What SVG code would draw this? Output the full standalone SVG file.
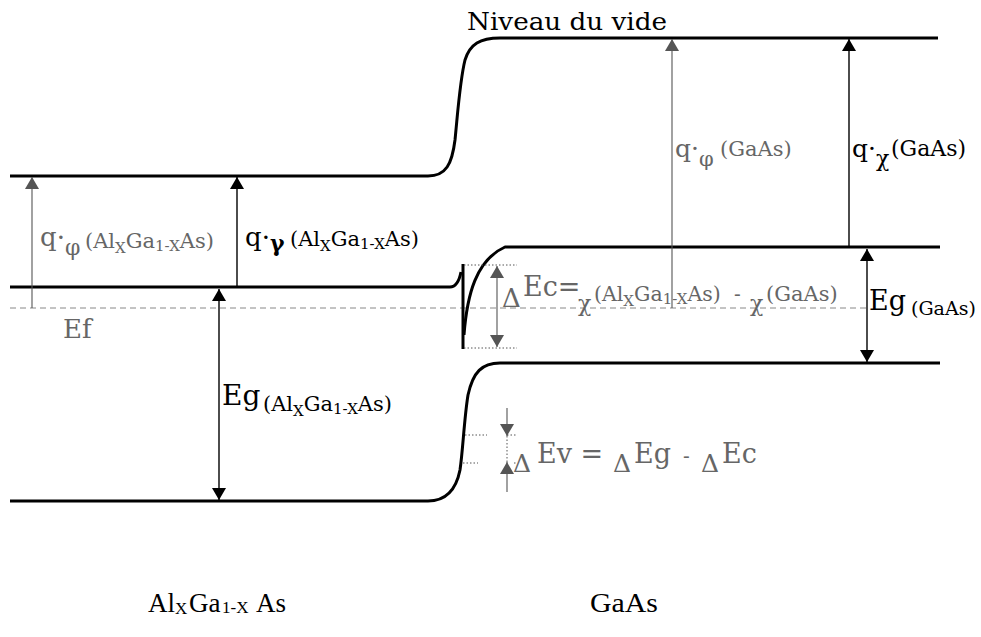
<svg xmlns="http://www.w3.org/2000/svg" width="981" height="637" viewBox="0 0 981 637">
<style>
.band{fill:none;stroke:#000;stroke-width:3;stroke-linejoin:round}
.ab{stroke:#000;stroke-width:1.4;fill:none}
.ag{stroke:#555;stroke-width:1.1;fill:none}
.dot{stroke:#555;stroke-width:1;stroke-dasharray:1.5,2;fill:none}
.ef{stroke:#888;stroke-width:1;stroke-dasharray:6,4;fill:none}
text{font-family:"DejaVu Serif","Liberation Serif",serif}
.k{fill:#000}
.g{fill:#666}
.tt{font-family:"Liberation Serif","Times New Roman",serif;fill:#000}
</style>
<defs>
<marker id="hb" viewBox="0 0 12 14" refX="12" refY="7" markerWidth="12" markerHeight="14" markerUnits="userSpaceOnUse" orient="auto"><path d="M0,0 L12,7 L0,14 Z" fill="#000"/></marker>
<marker id="hg" viewBox="0 0 12 14" refX="12" refY="7" markerWidth="12" markerHeight="14" markerUnits="userSpaceOnUse" orient="auto"><path d="M0,0 L12,7 L0,14 Z" fill="#555"/></marker>
<marker id="hbs" viewBox="0 0 12 14" refX="0" refY="7" markerWidth="12" markerHeight="14" markerUnits="userSpaceOnUse" orient="auto"><path d="M12,0 L0,7 L12,14 Z" fill="#000"/></marker>
<marker id="hgs" viewBox="0 0 12 14" refX="0" refY="7" markerWidth="12" markerHeight="14" markerUnits="userSpaceOnUse" orient="auto"><path d="M12,0 L0,7 L12,14 Z" fill="#555"/></marker>
</defs>
<rect width="981" height="637" fill="#fff"/>

<g id="fermi"><line class="ef" x1="10" y1="308" x2="866" y2="308"/></g>

<g id="vacuum"><path class="band" d="M10,176 H428 C446,176 452,164 455,140 C458,110 460,80 465,60 C470,44 480,38 500,38 H938"/></g>
<g id="cb-algaas"><path class="band" d="M10,287 H450 C456,287 459,282 461,272"/><line class="band" x1="463" y1="264" x2="463" y2="349"/></g>
<g id="cb-gaas"><path class="band" d="M464,335 C467,295 476,260 505,247 H940"/></g>
<g id="vb"><path class="band" d="M10,501 H428 C446,501 456,490 460,470 C463,450 464,420 468,395 C473,372 482,363 500,363 H940"/></g>

<g id="connectors">
<line class="ag" x1="32" y1="308" x2="32" y2="177" marker-end="url(#hg)"/>
<line class="ab" x1="237" y1="287" x2="237" y2="177" marker-end="url(#hb)"/>
<line class="ab" x1="219" y1="289" x2="219" y2="500" marker-start="url(#hbs)" marker-end="url(#hb)"/>
<line class="ag" x1="672" y1="308" x2="672" y2="39" marker-end="url(#hg)"/>
<line class="ab" x1="849" y1="247" x2="849" y2="39" marker-end="url(#hb)"/>
<line class="ab" x1="867" y1="249" x2="867" y2="362" marker-start="url(#hbs)" marker-end="url(#hb)"/>
<line class="ag" x1="497" y1="266" x2="497" y2="347" marker-start="url(#hgs)" marker-end="url(#hg)"/>
<line class="dot" x1="464" y1="265" x2="517" y2="265"/>
<line class="dot" x1="464" y1="348" x2="517" y2="348"/>
<line class="ag" x1="507" y1="408" x2="507" y2="436" marker-end="url(#hg)"/>
<line class="ag" x1="507" y1="492" x2="507" y2="462" marker-end="url(#hg)"/>
<line class="dot" x1="507" y1="436" x2="507" y2="462"/>
<line class="dot" x1="465" y1="435" x2="487" y2="435"/>
<line class="dot" x1="507" y1="435" x2="517" y2="435"/>
<line class="dot" x1="463" y1="463" x2="478" y2="463"/>
<line class="dot" x1="514" y1="463" x2="516" y2="463"/>
</g>

<g id="label-vide"><text class="k" x="467" y="30" font-size="24" textLength="200" lengthAdjust="spacingAndGlyphs">Niveau du vide</text></g>

<g id="label-phi-algaas"><text class="g"><tspan x="40" y="246" font-size="26">q·</tspan><tspan dy="9" font-size="22">φ</tspan><tspan x="85" y="248" font-size="21">(Al</tspan><tspan dy="5" font-size="15">X</tspan><tspan dy="-5" font-size="21">Ga</tspan><tspan dy="3" font-size="15">1-X</tspan><tspan dy="-3" font-size="21">As)</tspan></text></g>

<g id="label-chi-algaas"><text class="k"><tspan x="245" y="246" font-size="26">q·</tspan><tspan dy="5" font-size="22" font-weight="bold">γ</tspan><tspan x="290" y="246" font-size="21">(Al</tspan><tspan dy="5" font-size="15">X</tspan><tspan dy="-5" font-size="21">Ga</tspan><tspan dy="3" font-size="15">1-X</tspan><tspan dy="-3" font-size="21">As)</tspan></text></g>

<g id="label-ef"><text class="g" x="63" y="338" font-size="26">Ef</text></g>

<g id="label-eg-algaas"><text class="k"><tspan x="222" y="405" font-size="28">Eg</tspan><tspan x="263" y="411" font-size="21">(Al</tspan><tspan dy="5" font-size="15">X</tspan><tspan dy="-5" font-size="21">Ga</tspan><tspan dy="3" font-size="15">1-X</tspan><tspan dy="-3" font-size="21">As)</tspan></text></g>

<g id="label-dec"><text class="g"><tspan x="502" y="307" font-size="26">Δ</tspan><tspan x="523" y="296" font-size="27">Ec=</tspan><tspan x="578" y="311" font-size="22">χ</tspan><tspan x="594" y="301" font-size="20.5">(Al</tspan><tspan dy="5" font-size="15">X</tspan><tspan dy="-5" font-size="20.5">Ga</tspan><tspan dy="3" font-size="15">1-X</tspan><tspan dy="-3" font-size="20.5">As)</tspan><tspan x="734" y="301" font-size="20">-</tspan><tspan x="750" y="311" font-size="22">χ</tspan><tspan x="766" y="301" font-size="21">(GaAs)</tspan></text></g>

<g id="label-eg-gaas"><text class="k"><tspan x="869" y="310" font-size="27">Eg</tspan><tspan x="911" y="315" font-size="19">(GaAs)</tspan></text></g>

<g id="label-phi-gaas"><text class="g"><tspan x="675" y="157" font-size="25">q·</tspan><tspan dy="9" font-size="21">φ</tspan><tspan x="720" y="156" font-size="21">(GaAs)</tspan></text></g>

<g id="label-chi-gaas"><text class="k"><tspan x="852" y="157" font-size="25">q·</tspan><tspan dy="9" font-size="22">χ</tspan><tspan x="891" y="156" font-size="22">(GaAs)</tspan></text></g>

<g id="label-dev"><text class="g"><tspan x="513" y="472" font-size="25">Δ</tspan><tspan x="537" y="463" font-size="27">Ev =</tspan><tspan x="613" y="472" font-size="25">Δ</tspan><tspan x="634" y="463" font-size="27">Eg</tspan><tspan x="683" y="463" font-size="20">-</tspan><tspan x="701" y="472" font-size="25">Δ</tspan><tspan x="722" y="463" font-size="27">Ec</tspan></text></g>

<g id="label-algaas"><text class="tt"><tspan x="148" y="612" font-size="27">Al</tspan><tspan x="175" y="614" font-size="17">X</tspan><tspan x="189" y="612" font-size="27">Ga</tspan><tspan x="222" y="613" font-size="17">1-X</tspan><tspan x="256" y="612" font-size="27">As</tspan></text></g>
<g id="label-gaas"><text class="tt" x="590" y="612" font-size="27" textLength="68" lengthAdjust="spacingAndGlyphs">GaAs</text></g>
</svg>
